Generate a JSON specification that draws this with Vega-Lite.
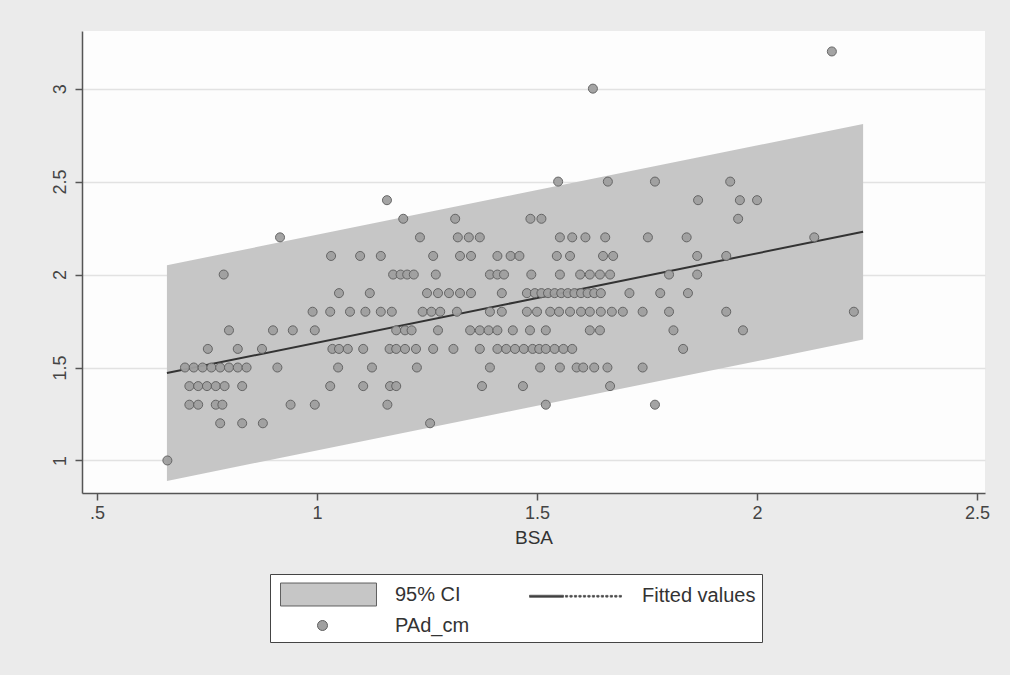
{
  "$schema": "https://vega.github.io/schema/vega-lite/v6.json",
  "autosize": "none",
  "width": 903,
  "height": 462,
  "padding": {"left": 82, "top": 31, "right": 25, "bottom": 182},
  "background": "#ebebeb",
  "view": {"fill": "#fdfdfd", "stroke": null},
  "config": {"font": "Liberation Sans"},
  "datasets": {
    "band": [
      {"BSA": 0.659, "lo": 0.89, "hi": 2.05, "fit": 1.47},
      {"BSA": 1.45, "lo": 1.27, "hi": 2.43, "fit": 1.85},
      {"BSA": 2.241, "lo": 1.65, "hi": 2.81, "fit": 2.23}
    ],
    "pts": [
      {"BSA": 2.17, "PAd_cm": 3.2},
      {"BSA": 1.627, "PAd_cm": 3.0},
      {"BSA": 1.548, "PAd_cm": 2.5}, {"BSA": 1.661, "PAd_cm": 2.5}, {"BSA": 1.768, "PAd_cm": 2.5}, {"BSA": 1.939, "PAd_cm": 2.5},
      {"BSA": 1.159, "PAd_cm": 2.4}, {"BSA": 1.866, "PAd_cm": 2.4}, {"BSA": 1.961, "PAd_cm": 2.4}, {"BSA": 2.0, "PAd_cm": 2.4},
      {"BSA": 1.196, "PAd_cm": 2.3}, {"BSA": 1.314, "PAd_cm": 2.3}, {"BSA": 1.485, "PAd_cm": 2.3}, {"BSA": 1.51, "PAd_cm": 2.3}, {"BSA": 1.957, "PAd_cm": 2.3},
      {"BSA": 0.916, "PAd_cm": 2.2}, {"BSA": 1.234, "PAd_cm": 2.2}, {"BSA": 1.32, "PAd_cm": 2.2}, {"BSA": 1.345, "PAd_cm": 2.2}, {"BSA": 1.37, "PAd_cm": 2.2}, {"BSA": 1.552, "PAd_cm": 2.2}, {"BSA": 1.58, "PAd_cm": 2.2}, {"BSA": 1.61, "PAd_cm": 2.2}, {"BSA": 1.655, "PAd_cm": 2.2}, {"BSA": 1.752, "PAd_cm": 2.2}, {"BSA": 1.84, "PAd_cm": 2.2}, {"BSA": 2.13, "PAd_cm": 2.2},
      {"BSA": 1.032, "PAd_cm": 2.1}, {"BSA": 1.098, "PAd_cm": 2.1}, {"BSA": 1.145, "PAd_cm": 2.1}, {"BSA": 1.264, "PAd_cm": 2.1}, {"BSA": 1.325, "PAd_cm": 2.1}, {"BSA": 1.35, "PAd_cm": 2.1}, {"BSA": 1.41, "PAd_cm": 2.1}, {"BSA": 1.44, "PAd_cm": 2.1}, {"BSA": 1.46, "PAd_cm": 2.1}, {"BSA": 1.545, "PAd_cm": 2.1}, {"BSA": 1.575, "PAd_cm": 2.1}, {"BSA": 1.65, "PAd_cm": 2.1}, {"BSA": 1.673, "PAd_cm": 2.1}, {"BSA": 1.864, "PAd_cm": 2.1}, {"BSA": 1.93, "PAd_cm": 2.1},
      {"BSA": 0.788, "PAd_cm": 2.0}, {"BSA": 1.173, "PAd_cm": 2.0}, {"BSA": 1.19, "PAd_cm": 2.0}, {"BSA": 1.205, "PAd_cm": 2.0}, {"BSA": 1.22, "PAd_cm": 2.0}, {"BSA": 1.27, "PAd_cm": 2.0}, {"BSA": 1.393, "PAd_cm": 2.0}, {"BSA": 1.41, "PAd_cm": 2.0}, {"BSA": 1.425, "PAd_cm": 2.0}, {"BSA": 1.487, "PAd_cm": 2.0}, {"BSA": 1.552, "PAd_cm": 2.0}, {"BSA": 1.598, "PAd_cm": 2.0}, {"BSA": 1.62, "PAd_cm": 2.0}, {"BSA": 1.643, "PAd_cm": 2.0}, {"BSA": 1.666, "PAd_cm": 2.0}, {"BSA": 1.8, "PAd_cm": 2.0}, {"BSA": 1.864, "PAd_cm": 2.0},
      {"BSA": 1.05, "PAd_cm": 1.9}, {"BSA": 1.12, "PAd_cm": 1.9}, {"BSA": 1.25, "PAd_cm": 1.9}, {"BSA": 1.275, "PAd_cm": 1.9}, {"BSA": 1.3, "PAd_cm": 1.9}, {"BSA": 1.325, "PAd_cm": 1.9}, {"BSA": 1.35, "PAd_cm": 1.9}, {"BSA": 1.42, "PAd_cm": 1.9}, {"BSA": 1.477, "PAd_cm": 1.9}, {"BSA": 1.495, "PAd_cm": 1.9}, {"BSA": 1.51, "PAd_cm": 1.9}, {"BSA": 1.525, "PAd_cm": 1.9}, {"BSA": 1.54, "PAd_cm": 1.9}, {"BSA": 1.555, "PAd_cm": 1.9}, {"BSA": 1.57, "PAd_cm": 1.9}, {"BSA": 1.585, "PAd_cm": 1.9}, {"BSA": 1.6, "PAd_cm": 1.9}, {"BSA": 1.615, "PAd_cm": 1.9}, {"BSA": 1.63, "PAd_cm": 1.9}, {"BSA": 1.645, "PAd_cm": 1.9}, {"BSA": 1.71, "PAd_cm": 1.9}, {"BSA": 1.78, "PAd_cm": 1.9}, {"BSA": 1.843, "PAd_cm": 1.9},
      {"BSA": 0.99, "PAd_cm": 1.8}, {"BSA": 1.03, "PAd_cm": 1.8}, {"BSA": 1.075, "PAd_cm": 1.8}, {"BSA": 1.11, "PAd_cm": 1.8}, {"BSA": 1.145, "PAd_cm": 1.8}, {"BSA": 1.17, "PAd_cm": 1.8}, {"BSA": 1.24, "PAd_cm": 1.8}, {"BSA": 1.26, "PAd_cm": 1.8}, {"BSA": 1.28, "PAd_cm": 1.8}, {"BSA": 1.318, "PAd_cm": 1.8}, {"BSA": 1.393, "PAd_cm": 1.8}, {"BSA": 1.42, "PAd_cm": 1.8}, {"BSA": 1.477, "PAd_cm": 1.8}, {"BSA": 1.5, "PAd_cm": 1.8}, {"BSA": 1.53, "PAd_cm": 1.8}, {"BSA": 1.55, "PAd_cm": 1.8}, {"BSA": 1.575, "PAd_cm": 1.8}, {"BSA": 1.6, "PAd_cm": 1.8}, {"BSA": 1.62, "PAd_cm": 1.8}, {"BSA": 1.645, "PAd_cm": 1.8}, {"BSA": 1.67, "PAd_cm": 1.8}, {"BSA": 1.695, "PAd_cm": 1.8}, {"BSA": 1.74, "PAd_cm": 1.8}, {"BSA": 1.8, "PAd_cm": 1.8}, {"BSA": 1.93, "PAd_cm": 1.8}, {"BSA": 2.22, "PAd_cm": 1.8},
      {"BSA": 0.8, "PAd_cm": 1.7}, {"BSA": 0.9, "PAd_cm": 1.7}, {"BSA": 0.945, "PAd_cm": 1.7}, {"BSA": 0.995, "PAd_cm": 1.7}, {"BSA": 1.18, "PAd_cm": 1.7}, {"BSA": 1.2, "PAd_cm": 1.7}, {"BSA": 1.215, "PAd_cm": 1.7}, {"BSA": 1.275, "PAd_cm": 1.7}, {"BSA": 1.348, "PAd_cm": 1.7}, {"BSA": 1.37, "PAd_cm": 1.7}, {"BSA": 1.39, "PAd_cm": 1.7}, {"BSA": 1.41, "PAd_cm": 1.7}, {"BSA": 1.445, "PAd_cm": 1.7}, {"BSA": 1.484, "PAd_cm": 1.7}, {"BSA": 1.52, "PAd_cm": 1.7}, {"BSA": 1.62, "PAd_cm": 1.7}, {"BSA": 1.643, "PAd_cm": 1.7}, {"BSA": 1.81, "PAd_cm": 1.7}, {"BSA": 1.968, "PAd_cm": 1.7},
      {"BSA": 0.752, "PAd_cm": 1.6}, {"BSA": 0.82, "PAd_cm": 1.6}, {"BSA": 0.875, "PAd_cm": 1.6}, {"BSA": 1.035, "PAd_cm": 1.6}, {"BSA": 1.05, "PAd_cm": 1.6}, {"BSA": 1.07, "PAd_cm": 1.6}, {"BSA": 1.105, "PAd_cm": 1.6}, {"BSA": 1.165, "PAd_cm": 1.6}, {"BSA": 1.18, "PAd_cm": 1.6}, {"BSA": 1.2, "PAd_cm": 1.6}, {"BSA": 1.225, "PAd_cm": 1.6}, {"BSA": 1.264, "PAd_cm": 1.6}, {"BSA": 1.31, "PAd_cm": 1.6}, {"BSA": 1.37, "PAd_cm": 1.6}, {"BSA": 1.41, "PAd_cm": 1.6}, {"BSA": 1.43, "PAd_cm": 1.6}, {"BSA": 1.45, "PAd_cm": 1.6}, {"BSA": 1.47, "PAd_cm": 1.6}, {"BSA": 1.49, "PAd_cm": 1.6}, {"BSA": 1.505, "PAd_cm": 1.6}, {"BSA": 1.52, "PAd_cm": 1.6}, {"BSA": 1.54, "PAd_cm": 1.6}, {"BSA": 1.56, "PAd_cm": 1.6}, {"BSA": 1.58, "PAd_cm": 1.6}, {"BSA": 1.832, "PAd_cm": 1.6},
      {"BSA": 0.7, "PAd_cm": 1.5}, {"BSA": 0.72, "PAd_cm": 1.5}, {"BSA": 0.74, "PAd_cm": 1.5}, {"BSA": 0.76, "PAd_cm": 1.5}, {"BSA": 0.78, "PAd_cm": 1.5}, {"BSA": 0.8, "PAd_cm": 1.5}, {"BSA": 0.82, "PAd_cm": 1.5}, {"BSA": 0.84, "PAd_cm": 1.5}, {"BSA": 0.91, "PAd_cm": 1.5}, {"BSA": 1.048, "PAd_cm": 1.5}, {"BSA": 1.125, "PAd_cm": 1.5}, {"BSA": 1.227, "PAd_cm": 1.5}, {"BSA": 1.393, "PAd_cm": 1.5}, {"BSA": 1.507, "PAd_cm": 1.5}, {"BSA": 1.552, "PAd_cm": 1.5}, {"BSA": 1.59, "PAd_cm": 1.5}, {"BSA": 1.605, "PAd_cm": 1.5}, {"BSA": 1.63, "PAd_cm": 1.5}, {"BSA": 1.66, "PAd_cm": 1.5}, {"BSA": 1.74, "PAd_cm": 1.5},
      {"BSA": 0.71, "PAd_cm": 1.4}, {"BSA": 0.73, "PAd_cm": 1.4}, {"BSA": 0.75, "PAd_cm": 1.4}, {"BSA": 0.77, "PAd_cm": 1.4}, {"BSA": 0.79, "PAd_cm": 1.4}, {"BSA": 0.83, "PAd_cm": 1.4}, {"BSA": 1.03, "PAd_cm": 1.4}, {"BSA": 1.105, "PAd_cm": 1.4}, {"BSA": 1.166, "PAd_cm": 1.4}, {"BSA": 1.18, "PAd_cm": 1.4}, {"BSA": 1.375, "PAd_cm": 1.4}, {"BSA": 1.468, "PAd_cm": 1.4}, {"BSA": 1.666, "PAd_cm": 1.4},
      {"BSA": 0.71, "PAd_cm": 1.3}, {"BSA": 0.73, "PAd_cm": 1.3}, {"BSA": 0.77, "PAd_cm": 1.3}, {"BSA": 0.785, "PAd_cm": 1.3}, {"BSA": 0.94, "PAd_cm": 1.3}, {"BSA": 0.995, "PAd_cm": 1.3}, {"BSA": 1.16, "PAd_cm": 1.3}, {"BSA": 1.52, "PAd_cm": 1.3}, {"BSA": 1.768, "PAd_cm": 1.3},
      {"BSA": 0.78, "PAd_cm": 1.2}, {"BSA": 0.83, "PAd_cm": 1.2}, {"BSA": 0.877, "PAd_cm": 1.2}, {"BSA": 1.257, "PAd_cm": 1.2},
      {"BSA": 0.66, "PAd_cm": 1.0}
    ]
  },
  "encoding": {
    "x": {
      "field": "BSA", "type": "quantitative",
      "scale": {"domain": [0.466, 2.518], "nice": false, "zero": false},
      "axis": {
        "values": [0.5, 1, 1.5, 2, 2.5],
        "labelExpr": "datum.value == 0.5 ? '.5' : format(datum.value, '.1~f')",
        "grid": false, "title": "BSA",
        "domainColor": "#555", "domainWidth": 1.5,
        "tickColor": "#555", "tickWidth": 1.5, "tickSize": 7,
        "labelFontSize": 18, "labelColor": "#444", "labelPadding": 4,
        "titleFontSize": 19, "titleColor": "#333", "titleFontWeight": "normal", "titlePadding": 6
      }
    }
  },
  "layer": [
    {
      "data": {"name": "band"},
      "mark": {"type": "area", "color": "#c6c6c6", "opacity": 1},
      "encoding": {
        "y": {
          "field": "lo", "type": "quantitative",
          "scale": {"domain": [0.825, 3.31], "nice": false, "zero": false},
          "axis": {
            "values": [1, 1.5, 2, 2.5, 3],
            "labelExpr": "format(datum.value, '.1~f')",
            "title": null,
            "grid": true, "gridColor": "#e2e2e2", "gridWidth": 1.5,
            "domainColor": "#555", "domainWidth": 1.5,
            "tickColor": "#555", "tickWidth": 1.5, "tickSize": 7,
            "labelAngle": 270, "labelAlign": "center", "labelBaseline": "bottom",
            "labelFontSize": 18, "labelColor": "#444", "labelPadding": 6
          }
        },
        "y2": {"field": "hi"}
      }
    },
    {
      "data": {"name": "band"},
      "mark": {"type": "line", "color": "#333333", "strokeWidth": 2},
      "encoding": {
        "y": {"field": "fit", "type": "quantitative"}
      }
    },
    {
      "data": {"name": "pts"},
      "mark": {"type": "point", "filled": true, "size": 640, "stroke": "#606060", "strokeWidth": 1, "opacity": 0.95},
      "encoding": {
        "y": {"field": "PAd_cm", "type": "quantitative"},
        "color": {
          "datum": "PAd_cm", "type": "nominal",
          "scale": {"domain": ["95% CI", "Fitted values", "PAd_cm"], "range": ["#c6c6c6", "#333333", "#a0a0a0"]},
          "legend": {
            "title": null,
            "orient": "none", "legendX": 188, "legendY": 543,
            "direction": "horizontal", "columns": 2,
            "padding": 6, "strokeColor": "#444", "fillColor": "#ffffff",
            "labelFontSize": 20, "labelColor": "#333", "labelOffset": 58,
            "symbolOffset": 32,
            "rowPadding": 3, "columnPadding": 53, "symbolSize": 784,
            "symbolStrokeWidth": 1, "symbolOpacity": 1
          }
        },
        "shape": {
          "datum": "PAd_cm", "type": "nominal",
          "scale": {
            "domain": ["95% CI", "Fitted values", "PAd_cm"],
            "range": [
              "M-3,-0.82H3.857V0.82H-3Z",
              "M-2.857,-0.07H-0.43V0.07H-2.857Z M-0.29,-0.06h0.16v0.12h-0.16Z M0.03,-0.06h0.16v0.12h-0.16Z M0.35,-0.06h0.16v0.12h-0.16Z M0.67,-0.06h0.16v0.12h-0.16Z M0.99,-0.06h0.16v0.12h-0.16Z M1.31,-0.06h0.16v0.12h-0.16Z M1.63,-0.06h0.16v0.12h-0.16Z M1.95,-0.06h0.16v0.12h-0.16Z M2.27,-0.06h0.16v0.12h-0.16Z M2.59,-0.06h0.16v0.12h-0.16Z M2.91,-0.06h0.16v0.12h-0.16Z M3.23,-0.06h0.16v0.12h-0.16Z M3.55,-0.06h0.16v0.12h-0.16Z",
              "M-0.357,0A0.357,0.357 0 1,0 0.357,0A0.357,0.357 0 1,0 -0.357,0Z"
            ]
          }
        }
      }
    }
  ]
}
